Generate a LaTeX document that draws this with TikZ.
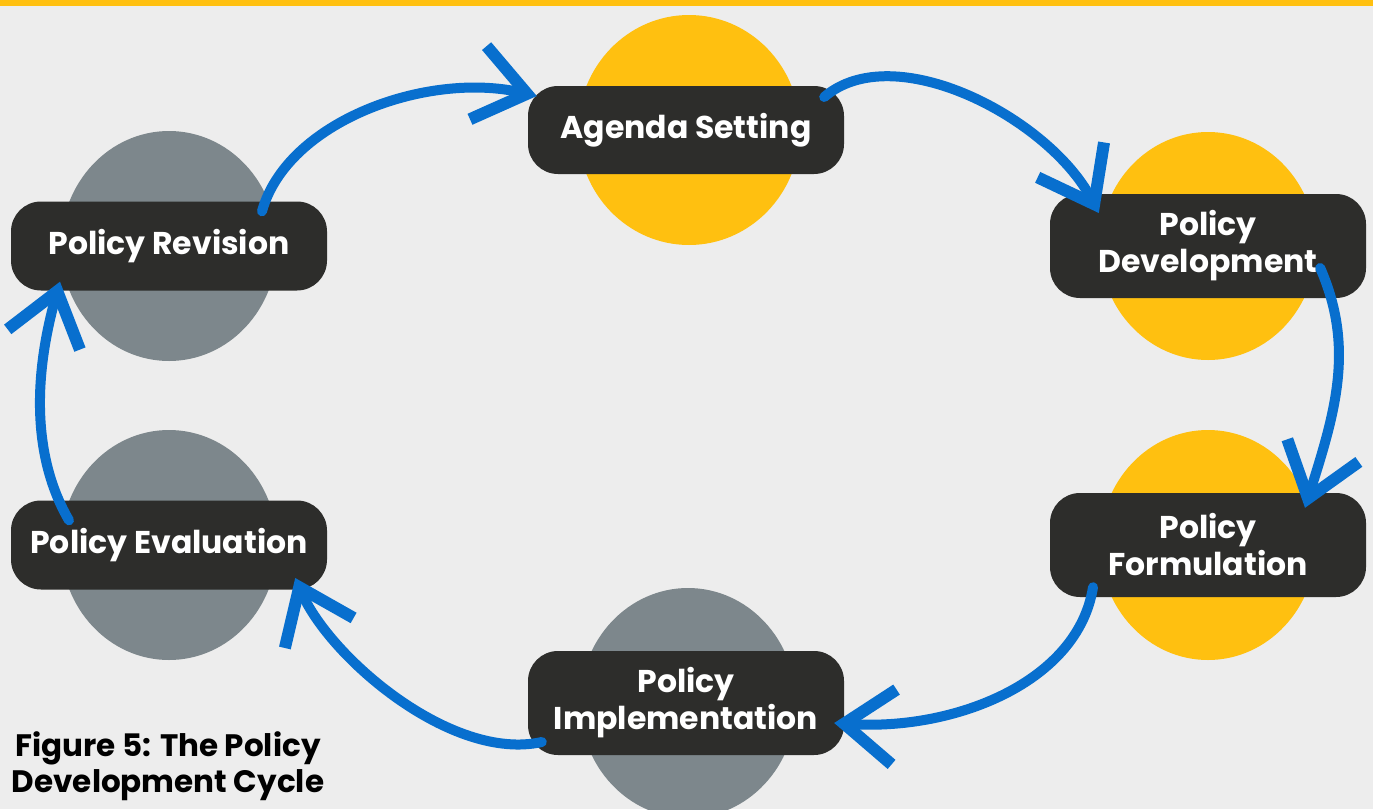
\documentclass[tikz,border=0pt]{standalone}
\usepackage{fontspec}
\setmainfont{Poppins}
\usetikzlibrary{arrows.meta,calc}

\definecolor{bgGrey}{RGB}{237,237,237}
\definecolor{sunYellow}{RGB}{255,192,16}
\definecolor{slateGrey}{RGB}{125,135,140}
\definecolor{boxDark}{RGB}{45,45,43}
\definecolor{flowBlue}{RGB}{8,111,206}

\tikzset{
  stage/.style={fill=boxDark, rounded corners=30pt, minimum width=316pt, inner sep=0pt,
    text=white, align=center, font=\bfseries\fontsize{31.5}{37}\selectfont},
  flow/.style={draw=flowBlue, line width=10pt, line cap=round,
    -{Straight Barb[length=50pt,width=75pt,line width=12pt]}},
}

\begin{document}
\begin{tikzpicture}[x=1pt,y=1pt,yscale=-1,xscale=1]
\useasboundingbox (0,0) rectangle (1373,809);
\fill[bgGrey] (0,0) rectangle (1373,809);
\fill[sunYellow] (0,0) rectangle (1373,6);

% centres of the stages
\coordinate (cAgenda) at (686,130);
\coordinate (cDev) at (1208,246);
\coordinate (cForm) at (1208,545);
\coordinate (cImpl) at (686,703);
\coordinate (cEval) at (169,545);
\coordinate (cRev) at (169,246);

% discs behind the boxes
\fill[sunYellow] ($(cAgenda)+(3,0)$) ellipse [x radius=111, y radius=115];
\fill[sunYellow] (cDev) ellipse [x radius=108, y radius=114];
\fill[sunYellow] (cForm) ellipse [x radius=108, y radius=115];
\fill[slateGrey] ($(cImpl)+(2,0)$) ellipse [x radius=108, y radius=115];
\fill[slateGrey] (cEval) ellipse [x radius=108, y radius=115];
\fill[slateGrey] (cRev) ellipse [x radius=108, y radius=115];

% stages
\node[stage, minimum height=88pt] (agenda) at (cAgenda) {Agenda Setting};
\node[stage, minimum height=104pt] (dev) at (cDev) {Policy\\Development};
\node[stage, minimum height=104pt] (form) at (cForm) {Policy\\Formulation};
\node[stage, minimum height=104pt] (impl) at (cImpl) {Policy\\Implementation};
\node[stage, minimum height=89pt] (eval) at (cEval) {Policy Evaluation};
\node[stage, minimum height=89pt] (rev) at (cRev) {Policy Revision};

% cycle arrows
\draw[flow] ($(rev.north)+(93,10)$) .. controls +(25,-90) and +(-110,-25) .. ($(agenda.west)+(9,-34)$);
\draw[flow] ($(agenda.east)+(-20,-33)$) .. controls +(70,-60) and +(-50,-95) .. ($(dev.west)+(49,-33)$);
\draw[flow] ($(dev.east)+(-46,22)$) .. controls +(35,80) and +(30,-95) .. ($(form.north)+(97,15)$);
\draw[flow] ($(form.south)+(-115,-10)$) .. controls +(-15,95) and +(120,8) .. ($(impl.east)+(-10,20)$);
\draw[flow] ($(impl.west)+(14,39)$) .. controls +(-90,20) and +(35,80) .. ($(eval.east)+(-32,33)$);
\draw[flow] ($(eval.north)+(-100,20)$) .. controls +(-35,-60) and +(-28,100) .. ($(rev.south)+(-109,-9)$);

% caption
\node[anchor=base, align=center, text=black, font=\bfseries\fontsize{31}{36}\selectfont] (caption) at (168,792) {Figure 5: The Policy\\Development Cycle};

\end{tikzpicture}
\end{document}
